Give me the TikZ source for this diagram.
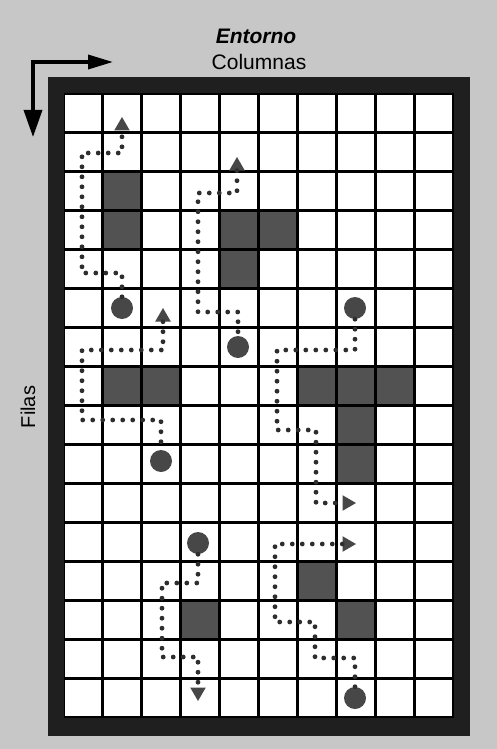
\documentclass[tikz,border=0pt]{standalone}
\usepackage{fontspec}
\setmainfont{Liberation Sans}
\usetikzlibrary{arrows.meta,shapes.geometric}
\begin{document}
\begin{tikzpicture}[x=1pt,y=-1pt,
  obst/.style={fill=black!68},
  goal/.style={circle,fill=black!72,minimum size=22pt,inner sep=0pt},
  tri/.style={regular polygon,regular polygon sides=3,fill=black!72,minimum size=18pt,inner sep=0pt},
  triright/.style={tri,shape border rotate=-90},
  tridown/.style={tri,shape border rotate=180},
  dotpath/.style={draw=black!82,line width=4.8pt,line cap=round,dash pattern=on 0pt off 10pt},
  axisarrow/.style={line width=3.5pt,{Triangle[length=27pt,width=18pt]}-{Triangle[length=25pt,width=14pt]}}]
\useasboundingbox (0,0) rectangle (497,749);
\fill[black!22] (0,0) rectangle (497,749);
% frame
\fill[black!88] (48,77) rectangle (470,736);
\fill[black] (63.5,93.5) rectangle (453.5,717.5);
% cells
\foreach \i in {0,...,9}
  \foreach \j in {0,...,15}
    \fill[white] ({63.5+39*\i+1.7},{93.5+39*\j+1.7}) rectangle ++(35.6,35.6);
% obstacles
\foreach \c/\r in {2/3,2/4,5/4,6/4,5/5,2/8,3/8,7/8,8/8,9/8,8/9,8/10,7/13,4/14,8/14}
  \fill[obst] ({63.5+39*(\c-1)+1.7},{93.5+39*(\r-1)+1.7}) rectangle ++(35.6,35.6);
% titles
\node[font=\fontsize{21}{24}\selectfont\bfseries\itshape] (ent) at (256,36) {Entorno};
\node[font=\fontsize{21}{24}\selectfont] (col) at (259,62) {Columnas};
\node[font=\fontsize{20}{24}\selectfont,rotate=90] (fil) at (28,407) {Filas};
% axis arrows
\coordinate (corner) at (33,62);
\coordinate (htip) at (113,62);
\coordinate (vtip) at (33,137);
\draw[axisarrow] (vtip) -- (corner) -- (htip);
% goals
\node[goal] (g1) at (122,308) {};
\node[goal] (g2) at (238,347) {};
\node[goal] (g3) at (355,308) {};
\node[goal] (g4) at (161,461) {};
\node[goal] (g5) at (198,543) {};
\node[goal] (g6) at (355,698) {};
% markers
\node[tri] (t1) at (122,126) {};
\node[tri] (t2) at (237,166) {};
\node[tri] (t3) at (163,317) {};
\node[triright] (t4) at (347,503) {};
\node[triright] (t5) at (347,544) {};
\node[tridown] (t6) at (198,692) {};
% paths
\draw[dotpath] (g1.north) -- (122,273) -- (82,273) -- (82,153) -- (122,153) -- (t1.south);
\draw[dotpath] (t2.south) -- (237,193) -- (198,193) -- (198,312) -- (238,312) -- (g2.north);
\draw[dotpath] (t3.south) -- (163,350) -- (82,350) -- (82,420) -- (161,420) -- (g4.north);
\draw[dotpath] (g3.south) -- (355,350) -- (277,350) -- (277,430) -- (316,430) -- (316,503) -- (t4.west);
\draw[dotpath] (t5.west) -- (275,544) -- (275,622) -- (315,622) -- (315,658) -- (355,658) -- (g6.north);
\draw[dotpath] (g5.south) -- (198,583) -- (162,583) -- (162,657) -- (198,657) -- (t6.north);
\end{tikzpicture}
\end{document}
